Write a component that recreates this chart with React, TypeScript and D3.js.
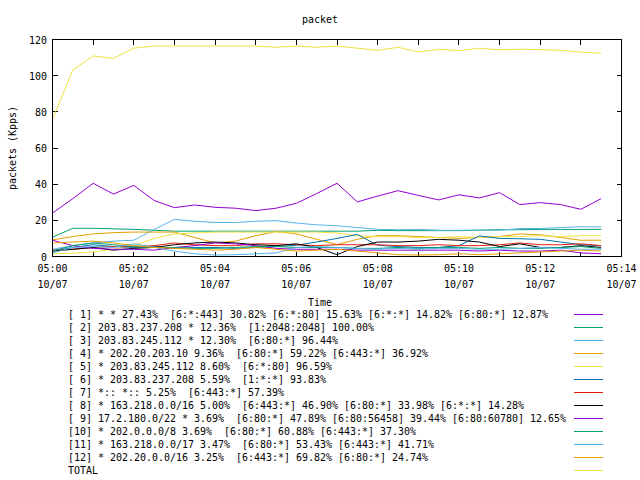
import React from "react";
import * as d3 from "d3";

const title = "packet";
const yAxisLabel = "packets (Kpps)";
const xAxisLabel = "Time";
const dateLabel = "10/07";
const yTicks = [0, 20, 40, 60, 80, 100, 120];
const xDomain = ["05:00:00", "05:14:00"];
const xTickLabels = ["05:00", "05:02", "05:04", "05:06", "05:08", "05:10", "05:12", "05:14"];

const times = [
  "05:00:00", "05:00:30", "05:01:00", "05:01:30", "05:02:00", "05:02:30", "05:03:00",
  "05:03:30", "05:04:00", "05:04:30", "05:05:00", "05:05:30", "05:06:00", "05:06:30",
  "05:07:00", "05:07:30", "05:08:00", "05:08:30", "05:09:00", "05:09:30", "05:10:00",
  "05:10:30", "05:11:00", "05:11:30", "05:12:00", "05:12:30", "05:13:00", "05:13:30",
];

const s1 = [24, 32, 40.5, 34.5, 39.3, 31, 27, 28.5, 27.2, 26.7, 25.4, 26.7, 29.4, 34.8, 40.5, 30.2, 33.4, 36.4, 33.8, 31.3, 34.1, 32.4, 35.3, 28.7, 29.8, 28.7, 26.1, 32];
const s2 = [10.7, 15.6, 15.6, 15.3, 15, 14.5, 14, 14, 14, 14, 14, 14, 14, 14, 14, 14, 14.5, 14.3, 14.3, 14.3, 14.3, 14.6, 14.8, 14.8, 15, 15, 15, 15];
const s3 = [4, 6, 7.5, 8.5, 9, 15, 20.5, 19.5, 18.8, 18.8, 19.5, 19.8, 18.5, 17.5, 17, 16, 15, 14.8, 15, 14.5, 14.5, 14.5, 14.5, 15.5, 15.5, 16, 16.5, 16.3];
const s4 = [9.2, 11, 12.5, 13.2, 13.5, 13.5, 13.5, 10.5, 7.5, 8.5, 11.5, 13.8, 12.5, 9.5, 6.6, 9.5, 11.5, 11.5, 11, 10.5, 10, 10.5, 11, 12.5, 12, 10.5, 9, 9];
const s5 = [1.5, 1.8, 2.5, 4, 6, 10, 12.5, 13, 13.5, 13.5, 13.5, 13.5, 13.5, 13.5, 13, 11.5, 11, 11, 10.5, 10.5, 11, 10.5, 11, 11, 11.5, 11, 11.5, 11.5];
const s6 = [3, 5, 6.5, 5.5, 5, 5.5, 4.5, 5, 5, 4.5, 5, 5.5, 6.2, 8, 10, 12.2, 6.2, 5.5, 5, 5, 6, 11.4, 10, 9.8, 9.5, 8, 6.5, 6];
const s7 = [3.5, 4, 5, 5.5, 5.5, 6, 7.5, 6.5, 6, 6, 7, 7, 6.5, 6, 6.5, 6.5, 6.5, 6, 6, 6.5, 6, 6, 6.5, 7.5, 6.5, 6.5, 7, 6];
const s8 = [3, 4, 5, 3.5, 4.5, 5, 6.5, 7.5, 8, 7.5, 6.5, 6, 7, 5, 1, 5.5, 8, 8, 8.5, 9.5, 9, 8, 5.5, 7, 5, 5, 6, 5];
const s9 = [9, 6, 4.5, 4, 4, 3.5, 5, 6, 7.5, 7, 6, 4.5, 4, 4, 4, 3.5, 3.5, 3.5, 3.5, 3.5, 3.5, 3, 3.5, 3, 3, 3.5, 2, 1.5];
const s10 = [3, 6, 7.5, 6.5, 5.5, 5, 5, 4.5, 4.5, 5, 5.5, 5.5, 5, 5, 5, 4.5, 4.5, 5, 4.5, 5, 5, 4.5, 5, 4.5, 4.5, 5, 5.5, 4.5];
const s11 = [2, 5, 5.5, 5, 7, 5, 3, 1.5, 0.8, 1, 1.5, 2, 5, 5.5, 5, 4.5, 4, 4.5, 4, 4.5, 4.5, 4, 4, 4.5, 5, 4.5, 4, 4];
const s12 = [7.5, 8, 8.5, 7.5, 6, 5, 4.5, 4, 3.5, 4, 5, 4, 3, 3.5, 4, 3, 2, 1, 0.8, 1, 1.5, 1, 1.5, 2, 2.5, 3, 3.5, 3];
const total = [75.8, 103.2, 110.9, 109.6, 115.2, 116.4, 116.4, 116.4, 116.4, 116.4, 116.4, 115.7, 116.4, 115.7, 116.4, 115.2, 114.0, 115.7, 113.1, 114.6, 113.8, 115.2, 114.3, 114.6, 114.4, 114.0, 113.1, 112.4];

const legendLabels = [
  "[ 1] * * 27.43%  [6:*:443] 30.82% [6:*:80] 15.63% [6:*:*] 14.82% [6:80:*] 12.87%",
  "[ 2] 203.83.237.208 * 12.36%  [1:2048:2048] 100.00%",
  "[ 3] 203.83.245.112 * 12.30%  [6:80:*] 96.44%",
  "[ 4] * 202.20.203.10 9.36%  [6:80:*] 59.22% [6:443:*] 36.92%",
  "[ 5] * 203.83.245.112 8.60%  [6:*:80] 96.59%",
  "[ 6] * 203.83.237.208 5.59%  [1:*:*] 93.83%",
  "[ 7] *:: *:: 5.25%  [6:443:*] 57.39%",
  "[ 8] * 163.218.0.0/16 5.00%  [6:443:*] 46.90% [6:80:*] 33.98% [6:*:*] 14.28%",
  "[ 9] 17.2.180.0/22 * 3.69%  [6:80:*] 47.89% [6:80:56458] 39.44% [6:80:60780] 12.65%",
  "[10] * 202.0.0.0/8 3.69%  [6:80:*] 60.88% [6:443:*] 37.30%",
  "[11] * 163.218.0.0/17 3.47%  [6:80:*] 53.43% [6:443:*] 41.71%",
  "[12] * 202.20.0.0/16 3.25%  [6:443:*] 69.82% [6:80:*] 24.74%",
  "TOTAL",
];
const seriesValues = [s1, s2, s3, s4, s5, s6, s7, s8, s9, s10, s11, s12, total];
const colors = [
  "#9400d3", "#009e73", "#56b4e9", "#e69f00", "#f0e442", "#0072b2", "#e51e10", "#000000",
  "#9400d3", "#009e73", "#56b4e9", "#e69f00", "#f0e442",
];

const FONT = "'DejaVu Sans Mono', monospace";
const CW = 6;

function T(props: any) {
  const { children, anchor, ...rest } = props;
  const s = String(children);
  return (
    <text
      fontFamily={FONT}
      fontSize={11}
      textAnchor={anchor || "start"}
      textLength={s.length * CW}
      lengthAdjust="spacingAndGlyphs"
      fill="#000"
      style={{ whiteSpace: "pre" }}
      xmlSpace="preserve"
      {...rest}
    >
      {s}
    </text>
  );
}

export default function App() {
  const W = 640, H = 480;
  const parse = d3.timeParse("%H:%M:%S");
  const dates = times.map((t) => parse(t) as Date);
  const x = d3.scaleTime().domain([parse(xDomain[0]) as Date, parse(xDomain[1]) as Date]).range([52.5, 621.5]);
  const y = d3.scaleLinear().domain([0, 120]).range([256.5, 39.5]);
  const minuteTicks = x.ticks(d3.timeMinute.every(1) as any);
  const labelTicks = x.ticks(d3.timeMinute.every(2) as any);
  const line = d3.line<number>().x((_, i) => x(dates[i])).y((v) => y(v));
  const fmt = d3.timeFormat("%H:%M");
  const px = (v: number) => Math.round(v - 0.5) + 0.5;

  return (
    <svg width={W} height={H} style={{ position: "absolute", left: 0, top: 0, background: "#fff" }}>
      <rect x={0} y={0} width={W} height={H} fill="#fff" />
      <T x={320} y={23} anchor="middle">{title}</T>
      {yTicks.map((t) => (
        <g key={"y" + t}>
          <line x1={52.5} x2={57.5} y1={px(y(t))} y2={px(y(t))} stroke="#000" shapeRendering="crispEdges" />
          <line x1={616.5} x2={621.5} y1={px(y(t))} y2={px(y(t))} stroke="#000" shapeRendering="crispEdges" />
          <T x={47} y={y(t) + 4} anchor="end">{String(t)}</T>
        </g>
      ))}
      {minuteTicks.map((d, i) => (
        <g key={"x" + i}>
          <line x1={px(x(d))} x2={px(x(d))} y1={256.5} y2={251.5} stroke="#000" shapeRendering="crispEdges" />
          <line x1={px(x(d))} x2={px(x(d))} y1={39.5} y2={44.5} stroke="#000" shapeRendering="crispEdges" />
        </g>
      ))}
      {labelTicks.map((d, i) => (
        <g key={"xl" + i}>
          <T x={x(d)} y={272} anchor="middle">{xTickLabels[i] ?? fmt(d)}</T>
          <T x={x(d)} y={288} anchor="middle">{dateLabel}</T>
        </g>
      ))}
      {seriesValues.map((vals, k) => (
        <path key={"s" + k} d={line(vals) || ""} fill="none" stroke={colors[k]} strokeWidth={1} />
      ))}
      <rect x={52.5} y={39.5} width={569} height={217} fill="none" stroke="#000" shapeRendering="crispEdges" />
      <T x={320} y={306} anchor="middle">{xAxisLabel}</T>
      <T x={0} y={0} anchor="middle" transform={`translate(16,148) rotate(-90)`}>{yAxisLabel}</T>
      {legendLabels.map((lab, k) => (
        <g key={"l" + k}>
          <T x={68} y={318 + 13 * k}>{lab}</T>
          <line x1={574} x2={603} y1={314.5 + 13 * k} y2={314.5 + 13 * k} stroke={colors[k]} shapeRendering="crispEdges" />
        </g>
      ))}
    </svg>
  );
}
